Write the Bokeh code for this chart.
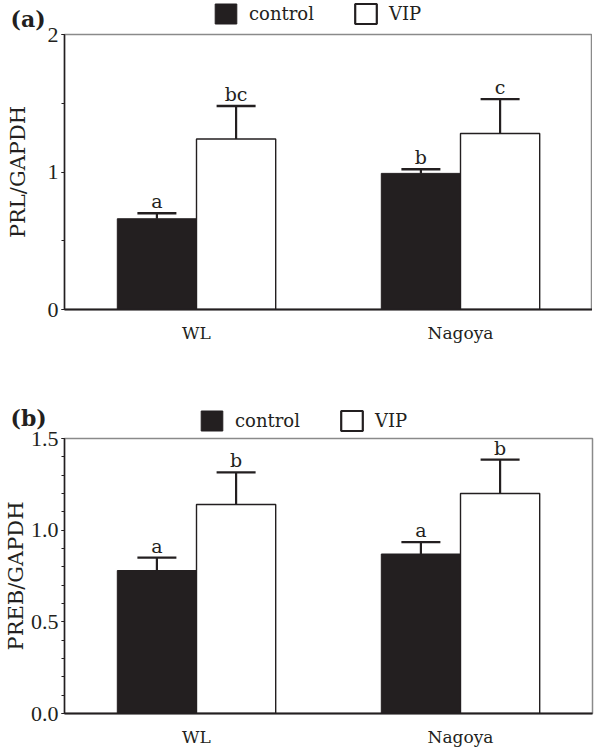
from bokeh.plotting import figure
from bokeh.models import (FactorRange, Range1d, Whisker, TeeHead, ColumnDataSource,
                          Legend, LegendItem, SingleIntervalTicker, PrintfTickFormatter)
from bokeh.transform import dodge
from bokeh.layouts import column
from bokeh.embed import file_html
from bokeh.resources import INLINE
from bokeh.core.properties import value

# ---------------- data ----------------
strains = ["WL", "Nagoya"]
series = ["control", "VIP"]

prl_control = [0.66, 0.99]
prl_control_se = [0.04, 0.03]
prl_vip = [1.24, 1.28]
prl_vip_se = [0.24, 0.25]
prl_letters_control = ["a", "b"]
prl_letters_vip = ["bc", "c"]

preb_control = [0.78, 0.87]
preb_control_se = [0.07, 0.065]
preb_vip = [1.14, 1.20]
preb_vip_se = [0.175, 0.185]
preb_letters_control = ["a", "a"]
preb_letters_vip = ["b", "b"]

INK = "#231f20"
SERIF = "DejaVu Serif"
NUM_FONT = "Liberation Serif"
W = 584
FRAME_W = 528
FRAME_H = 275
GLYPH_H = 25


def make_source(ctrl, ctrl_se, vip, vip_se, let_c, let_v):
    return ColumnDataSource(dict(
        strain=strains,
        ctrl=ctrl,
        ctrl_up=[v + e for v, e in zip(ctrl, ctrl_se)],
        vip=vip,
        vip_up=[v + e for v, e in zip(vip, vip_se)],
        let_c=let_c,
        let_v=let_v,
    ))


def make_header(src, h, legend_x, legend_top):
    """Legend row drawn above a chart; its key renderers draw nothing themselves."""
    hp = figure(width=W, height=h, x_range=FactorRange(*strains), y_range=Range1d(-11, -10),
                output_backend="svg", toolbar_location=None, x_axis_type=None,
                y_axis_type=None, min_border=0)
    hp.outline_line_color = None
    hp.xgrid.grid_line_color = None
    hp.ygrid.grid_line_color = None
    k_c = hp.vbar(x=dodge("strain", 6.0, range=hp.x_range), top="ctrl", bottom=float("nan"),
                  width=0.3, source=src, fill_color=INK, line_color=INK, line_width=1)
    k_v = hp.vbar(x=dodge("strain", 6.0, range=hp.x_range), top="vip", bottom=float("nan"),
                  width=0.3, source=src, fill_color="white", line_color=INK, line_width=2.2)
    legend = Legend(items=[LegendItem(label=series[0], renderers=[k_c]),
                           LegendItem(label=series[1], renderers=[k_v])],
                    orientation="horizontal",
                    location=(legend_x, h - legend_top - GLYPH_H),
                    glyph_width=27, glyph_height=GLYPH_H, label_height=GLYPH_H,
                    label_standoff=10, spacing=38, padding=0, margin=0,
                    border_line_color=None, background_fill_alpha=0,
                    label_text_font=SERIF, label_text_font_size="18px",
                    label_text_color=INK)
    hp.add_layout(legend)
    return hp


def make_panel(src, tag, ylabel, ymax, interval, nminor, fmt, top, bottom,
               label_standoff, pull_up, title_gap):
    p = figure(frame_width=FRAME_W, frame_height=FRAME_H, x_range=FactorRange(*strains),
               y_range=Range1d(0, ymax), output_backend="svg", toolbar_location=None,
               min_border_left=54, min_border_right=2, min_border_top=top,
               min_border_bottom=bottom, margin=(-pull_up, 0, 0, 0), title=tag)
    p.border_fill_alpha = 0
    p.title.text_font = SERIF
    p.title.text_font_style = "bold"
    p.title.text_font_size = "22px"
    p.title.text_color = INK
    p.title.align = "left"
    p.title.offset = -54
    p.title.standoff = title_gap

    xc = dodge("strain", -0.15, range=p.x_range)
    xv = dodge("strain", 0.15, range=p.x_range)

    p.vbar(x=xc, top="ctrl", width=0.3, source=src, fill_color=INK,
           line_color=INK, line_width=1)
    p.vbar(x=xv, top="vip", width=0.3, source=src, fill_color="white",
           line_color=INK, line_width=1.4)

    for base, lo, up in ((xc, "ctrl", "ctrl_up"), (xv, "vip", "vip_up")):
        w = Whisker(base=base, lower=lo, upper=up, source=src, lower_head=None,
                    upper_head=TeeHead(size=39, line_width=2.4, line_color=INK),
                    line_width=2.2, line_color=INK, level="annotation")
        p.add_layout(w)

    for xx, yy, tt in ((xc, "ctrl_up", "let_c"), (xv, "vip_up", "let_v")):
        p.text(x=xx, y=yy, text=tt, source=src, text_align="center",
               text_baseline="alphabetic", y_offset=-12,
               text_font=value(SERIF), text_font_size="19px", text_color=INK)

    p.xgrid.grid_line_color = None
    p.ygrid.grid_line_color = None
    p.outline_line_color = "#8a8a8a"
    p.outline_line_width = 1.5

    p.yaxis.ticker = SingleIntervalTicker(interval=interval, num_minor_ticks=nminor)
    p.yaxis.formatter = PrintfTickFormatter(format=fmt)
    p.yaxis.axis_label = ylabel
    p.yaxis.axis_label_text_font = SERIF
    p.yaxis.axis_label_text_font_style = "normal"
    p.yaxis.axis_label_text_font_size = "21px"
    p.yaxis.axis_label_text_color = INK
    p.yaxis.axis_label_standoff = label_standoff
    p.yaxis.major_label_text_font = NUM_FONT
    p.yaxis.major_label_text_font_size = "22px"
    p.yaxis.major_label_text_color = INK
    p.yaxis.major_label_standoff = 3
    p.yaxis.axis_line_color = INK
    p.yaxis.axis_line_width = 1.5
    p.yaxis.major_tick_in = 0
    p.yaxis.major_tick_out = 3
    p.yaxis.minor_tick_in = 0
    p.yaxis.minor_tick_out = 3
    p.yaxis.major_tick_line_color = INK
    p.yaxis.minor_tick_line_color = INK

    p.xaxis.axis_line_color = INK
    p.xaxis.axis_line_width = 2
    p.xaxis.major_tick_line_color = None
    p.xaxis.minor_tick_line_color = None
    p.xaxis.major_label_text_font = SERIF
    p.xaxis.major_label_text_font_size = "17px"
    p.xaxis.major_label_text_color = INK
    p.xaxis.major_label_standoff = 7
    return p


src_a = make_source(prl_control, prl_control_se, prl_vip, prl_vip_se,
                    prl_letters_control, prl_letters_vip)
src_b = make_source(preb_control, preb_control_se, preb_vip, preb_vip_se,
                    preb_letters_control, preb_letters_vip)

ha = make_header(src_a, 28, 148, 1)
pa = make_panel(src_a, "(a)", "PRL/GAPDH", 2, 1, 2, "%d", 34, 56, 15, 28, 6)
hb = make_header(src_b, 68, 134, 43)
pb = make_panel(src_b, "(b)", "PREB/GAPDH", 1.5, 0.5, 5, "%.1f", 46, 21, 0, 41, 16)

layout = column(ha, pa, hb, pb, spacing=0)
open("out.html", "w").write(file_html(layout, INLINE))
